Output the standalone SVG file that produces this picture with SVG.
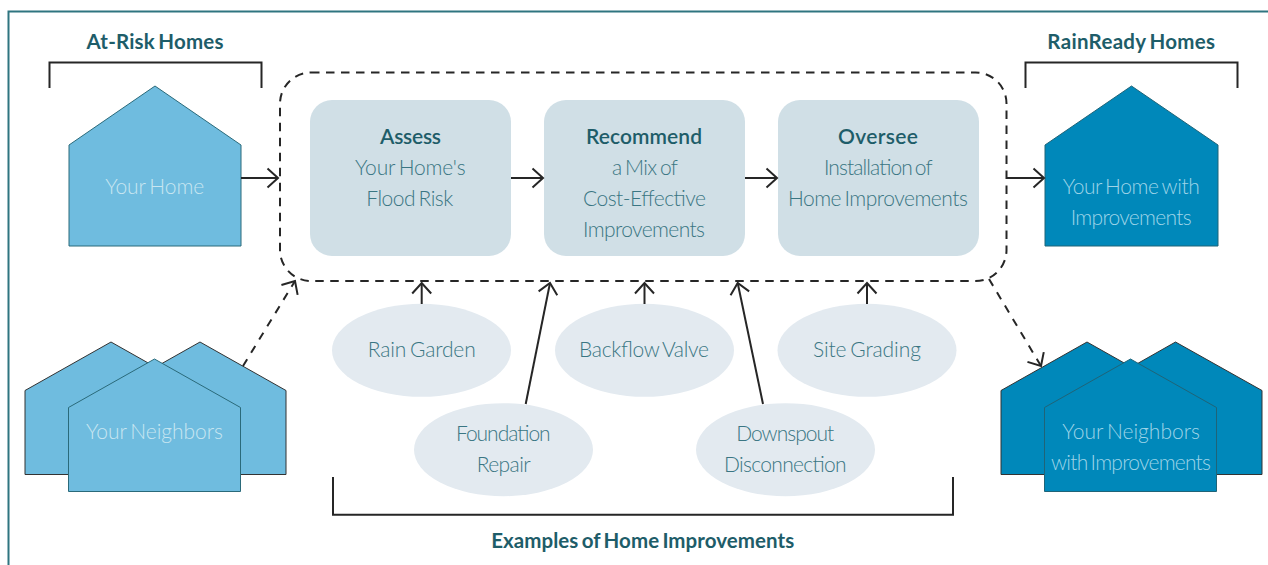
<svg xmlns="http://www.w3.org/2000/svg" width="1268" height="565" viewBox="0 0 1268 565">
<style>
text{font-family:"Lato","Noto Sans",sans-serif;text-anchor:middle;word-spacing:-1.8px}
.t{font-size:20.5px;font-weight:700;fill:#1e5d69}
.b{font-size:21px;font-weight:300;fill:#3a7683}
.h{font-size:21px;font-weight:600;fill:#1e5d69}
.lt{font-size:21px;font-weight:300;fill:#c8e6f1}
.dk{font-size:21px;font-weight:300;fill:#9ed4e8}
.hl{fill:#6fbcdf;stroke:#2a6a7a;stroke-width:1}
.hd{fill:#0088ba;stroke:#1f6478;stroke-width:1}
.back{stroke:#333}
.box{fill:#d0dfe6}
.el{fill:#e3eaf0}
.ln{fill:none;stroke:#262626;stroke-width:2}
.ds{stroke-dasharray:8.5 6.5}
.dg{stroke-dasharray:8 7.5}
</style>
<defs>
<marker id="ah" markerUnits="userSpaceOnUse" markerWidth="24" markerHeight="24" refX="12" refY="12" orient="auto" overflow="visible">
<path d="M1.5 2.500L12 12L1.500 21.500" fill="none" stroke="#262626" stroke-width="2"/>
</marker>
</defs>
<rect id="frame" x="8.500" y="11.500" width="1270" height="570" fill="none" stroke="#2f7580" stroke-width="2"/>

<g id="brackets">
<path class="ln" d="M49.500 88V62.500H261.500V88"/>
<path class="ln" d="M1025.500 88V62.500H1237.500V88"/>
<path class="ln" d="M333 477V514.800H953V477"/>
<text class="t" x="155" y="49" textLength="137">At-Risk Homes</text>
<text class="t" x="1131.200" y="49" textLength="167.700">RainReady Homes</text>
<text class="t" x="642.700" y="548" textLength="303">Examples of Home Improvements</text>
</g>

<g id="your-home">
<path class="hl" d="M155 86L241 145V246H69V145Z"/>
<text class="lt" x="154.700" y="194" textLength="99">Your Home</text>
</g>
<g id="your-neighbors">
<path class="hl back" d="M25 390.500L111 342L197 390.500V474.500H25Z"/>
<path class="hl back" d="M286 390.500L200 342L114 390.500V474.500H286Z"/>
<path class="hl" d="M68.500 407.500L154.500 359L240.500 407.500V491.500H68.500Z"/>
<text class="lt" x="154.500" y="439" textLength="137">Your Neighbors</text>
</g>
<g id="home-improved">
<path class="hd" d="M1131.500 86L1218 145V246H1045V145Z"/>
<text class="dk" x="1131.300" y="194" textLength="137">Your Home with</text>
<text class="dk" x="1131.200" y="225" textLength="121">Improvements</text>
</g>
<g id="neighbors-improved">
<path class="hd back" d="M1001 390.500L1087 342L1173 390.500V474.500H1001Z"/>
<path class="hd back" d="M1262 390.500L1175.500 342L1090 390.500V474.500H1262Z"/>
<path class="hd" d="M1044.500 407.500L1130.500 359L1216.500 407.500V491.500H1044.500Z"/>
<text class="dk" x="1131.200" y="439" textLength="137.700">Your Neighbors</text>
<text class="dk" x="1131" y="470" textLength="160">with Improvements</text>
</g>

<g id="assess">
<rect class="box" x="310" y="100" width="201" height="156" rx="22"/>
<text class="h" x="410.500" y="144" textLength="61">Assess</text>
<text class="b" x="410.300" y="175" textLength="110.700">Your Home's</text>
<text class="b" x="409.800" y="206" textLength="87">Flood Risk</text>
</g>
<g id="recommend">
<rect class="box" x="544" y="100" width="201" height="156" rx="22"/>
<text class="h" x="644" y="144" textLength="116">Recommend</text>
<text class="b" x="645" y="175" textLength="66">a Mix of</text>
<text class="b" x="644.500" y="206" textLength="123">Cost-Effective</text>
<text class="b" x="644" y="237" textLength="122">Improvements</text>
</g>
<g id="oversee">
<rect class="box" x="778" y="100" width="201" height="156" rx="22"/>
<text class="h" x="878" y="144" textLength="80">Oversee</text>
<text class="b" x="878.300" y="175" textLength="108.700">Installation of</text>
<text class="b" x="877.900" y="206" textLength="180">Home Improvements</text>
</g>

<g id="rain-garden">
<ellipse class="el" cx="421.500" cy="350.300" rx="89.500" ry="46.500"/>
<text class="b" x="421.700" y="357" textLength="108">Rain Garden</text>
</g>
<g id="backflow-valve">
<ellipse class="el" cx="644.500" cy="350.300" rx="89.500" ry="46.500"/>
<text class="b" x="644" y="357" textLength="130">Backflow Valve</text>
</g>
<g id="site-grading">
<ellipse class="el" cx="867" cy="350.300" rx="89.500" ry="46.500"/>
<text class="b" x="866.900" y="357" textLength="108">Site Grading</text>
</g>
<g id="foundation-repair">
<ellipse class="el" cx="503.500" cy="449.700" rx="89.500" ry="46.500"/>
<text class="b" x="503.300" y="441" textLength="94.700">Foundation</text>
<text class="b" x="503.700" y="472" textLength="54">Repair</text>
</g>
<g id="downspout-disconnection">
<ellipse class="el" cx="785.500" cy="449.700" rx="89.500" ry="46.500"/>
<text class="b" x="785.200" y="441" textLength="98">Downspout</text>
<text class="b" x="785.300" y="472" textLength="122.700">Disconnection</text>
</g>

<g id="connectors">
<rect class="ln ds" x="280" y="72.500" width="726.500" height="208.500" rx="31"/>
<path class="ln" marker-end="url(#ah)" d="M241 178H278"/>
<path class="ln" marker-end="url(#ah)" d="M511 178H543"/>
<path class="ln" marker-end="url(#ah)" d="M745 178H777"/>
<path class="ln" marker-end="url(#ah)" d="M1007 178H1044"/>
<path class="ln" marker-end="url(#ah)" d="M421.700 304V283"/>
<path class="ln" marker-end="url(#ah)" d="M644.500 304V283"/>
<path class="ln" marker-end="url(#ah)" d="M867 304V283"/>
<path class="ln" marker-end="url(#ah)" d="M525.700 404L550 283"/>
<path class="ln" marker-end="url(#ah)" d="M763 404L737.700 283"/>
<path class="ln dg" marker-end="url(#ah)" d="M243 366L295 281"/>
<path class="ln dg" marker-end="url(#ah)" d="M989 279L1041 366"/>
</g>
</svg>
